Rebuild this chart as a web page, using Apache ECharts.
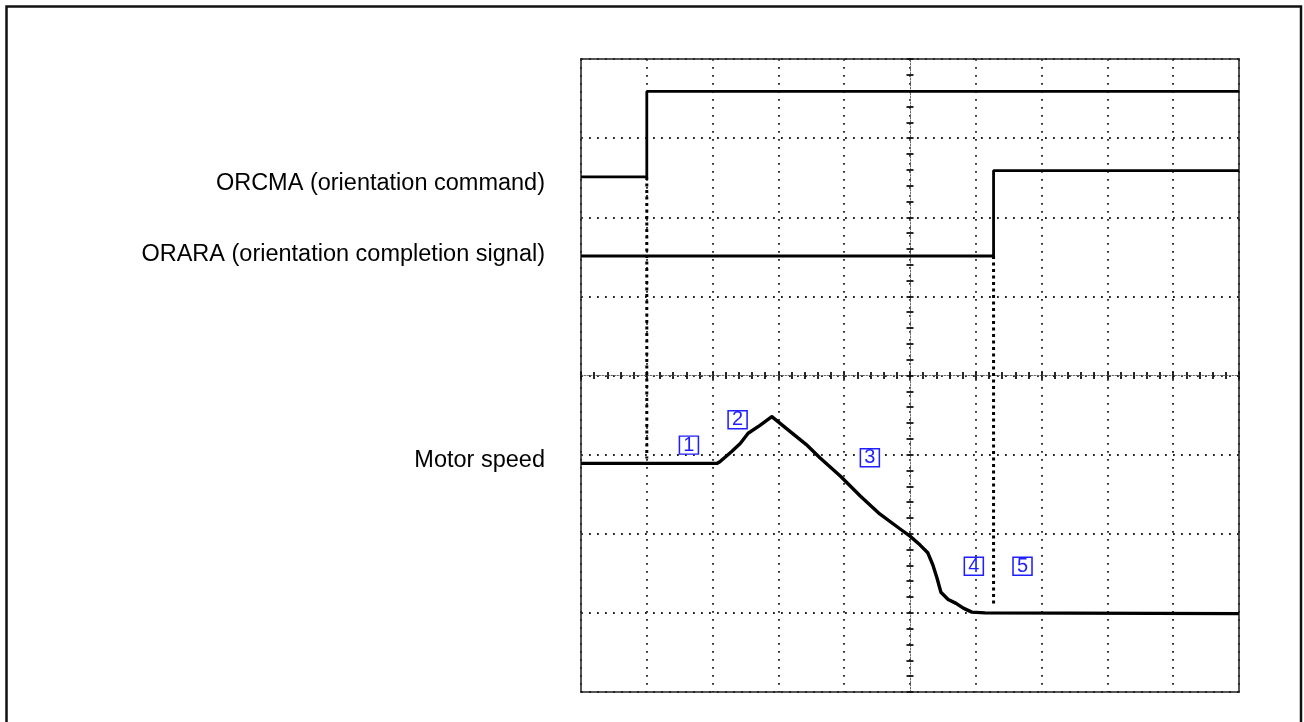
<!DOCTYPE html>
<html>
<head>
<meta charset="utf-8">
<script src="https://cdn.jsdelivr.net/npm/echarts@6/dist/echarts.min.js"></script>
<style>
  html, body { margin: 0; padding: 0; background: #fff; }
  #chart { width: 1304px; height: 722px; }
</style>
</head>
<body>
<div id="chart"></div>
<script>
// scope screen, in divisions: x -5..5, y -4..4 (centre is 0,0)
const signalNames = ["ORCMA (orientation command)", "ORARA (orientation completion signal)", "Motor speed"];

// ORCMA goes high at x = -4
const orcma = [[-5, 2.51], [-4, 2.51], [-4, 3.59], [5, 3.59]];
// ORARA goes high at x = 1.27
const orara = [[-5, 1.51], [1.27, 1.51], [1.27, 2.59], [5, 2.59]];

// motor speed trace
const motorSpeed = [
  [-5, -1.11], [-2.93, -1.11], [-2.89, -1.09], [-2.71, -0.96], [-2.58, -0.86],
  [-2.46, -0.73], [-2.28, -0.63], [-2.10, -0.52], [-1.82, -0.71], [-1.58, -0.87],
  [-1.37, -1.04], [-1.06, -1.27], [-0.76, -1.52], [-0.46, -1.75], [-0.15, -1.94],
  [0, -2.03], [0.15, -2.14], [0.27, -2.24], [0.35, -2.40], [0.41, -2.56],
  [0.47, -2.74], [0.58, -2.83], [0.70, -2.88], [0.81, -2.94], [0.94, -2.99],
  [1.14, -3.00], [5, -3.01]
];

// dotted markers from each signal edge down to the speed trace
const orcmaMarker = [[-4, 2.51], [-4, -1.05]];
const oraraMarker = [[1.27, 1.51], [1.27, -2.92]];

// numbered phase boxes
const phaseLabels = ["1", "2", "3", "4", "5"];
const phasePos = [[-3.36, -0.88], [-2.62, -0.56], [-0.61, -1.04], [0.97, -2.41], [1.71, -2.41]];

const font = "'Liberation Sans', Arial, sans-serif";
const chart = echarts.init(document.getElementById("chart"));

const gridDots = { color: "#222", width: 1.8, type: [1.8, 6.2] };
const centreLine = { color: "#666", width: 1, type: [1.5, 1.5] };
const tickStyle = { color: "#111", width: 1.8 };

function valueAxis(extra) {
  return Object.assign({
    type: "value",
    axisLabel: { show: false },
    axisTick: { show: true, length: 3.5, lineStyle: tickStyle },
    minorTick: { show: true, splitNumber: 5, length: 3.5, lineStyle: tickStyle },
    splitLine: { show: false }
  }, extra);
}

const option = {
  animation: false,
  backgroundColor: "#fff",
  grid: {
    left: 581, top: 59, width: 658, height: 633,
    show: true, borderColor: "#555", borderWidth: 2, backgroundColor: "transparent"
  },
  xAxis: [
    valueAxis({ min: -5, max: 5, interval: 1, position: "bottom",
      axisLine: { show: true, onZero: true, onZeroAxisIndex: 0, lineStyle: centreLine },
      splitLine: { show: true, lineStyle: gridDots } }),
    valueAxis({ min: -5, max: 5, interval: 1, position: "top",
      axisLine: { show: false, onZero: true, onZeroAxisIndex: 0 } })
  ],
  yAxis: [
    valueAxis({ min: -4, max: 4, interval: 1, position: "left",
      axisLine: { show: true, onZero: true, onZeroAxisIndex: 0, lineStyle: centreLine },
      splitLine: { show: true, lineStyle: gridDots } }),
    valueAxis({ min: -4, max: 4, interval: 1, position: "right",
      axisLine: { show: false, onZero: true, onZeroAxisIndex: 0 } })
  ],
  graphic: [
    { type: "rect", silent: true,
      shape: { x: 6.5, y: 6.5, width: 1294.5, height: 740 },
      style: { fill: "none", stroke: "#111", lineWidth: 2.5 } },
    { type: "text", x: 545, y: 184, silent: true,
      style: { text: signalNames[0], align: "right", verticalAlign: "middle", fill: "#000", font: "23.5px " + font } },
    { type: "text", x: 545, y: 255, silent: true,
      style: { text: signalNames[1], align: "right", verticalAlign: "middle", fill: "#000", font: "23.5px " + font } },
    { type: "text", x: 545, y: 461, silent: true,
      style: { text: signalNames[2], align: "right", verticalAlign: "middle", fill: "#000", font: "23.5px " + font } }
  ],
  series: [
    { name: "ORCMA", type: "line", data: orcma, symbol: "none",
      lineStyle: { color: "#000", width: 2.8 } },
    { name: "ORARA", type: "line", data: orara, symbol: "none",
      lineStyle: { color: "#000", width: 2.8 } },
    { name: "Motor speed", type: "line", data: motorSpeed, symbol: "none",
      lineStyle: { color: "#000", width: 3.4, join: "round" } },
    { type: "line", data: orcmaMarker, symbol: "none",
      lineStyle: { color: "#000", width: 3, type: [3, 3.5] } },
    { type: "line", data: oraraMarker, symbol: "none",
      lineStyle: { color: "#000", width: 3, type: [3, 3.5] } },
    { type: "scatter", symbol: "rect", symbolSize: [19, 18], z: 5,
      data: phasePos.map((p, i) => ({ value: p, name: phaseLabels[i] })),
      itemStyle: { color: "#fff", borderColor: "#1f1fff", borderWidth: 1.5, opacity: 1 },
      label: { show: true, position: "inside", formatter: "{b}", color: "#1f1fff",
        fontSize: 20, fontFamily: font } }
  ]
};

chart.setOption(option);
</script>
</body>
</html>
